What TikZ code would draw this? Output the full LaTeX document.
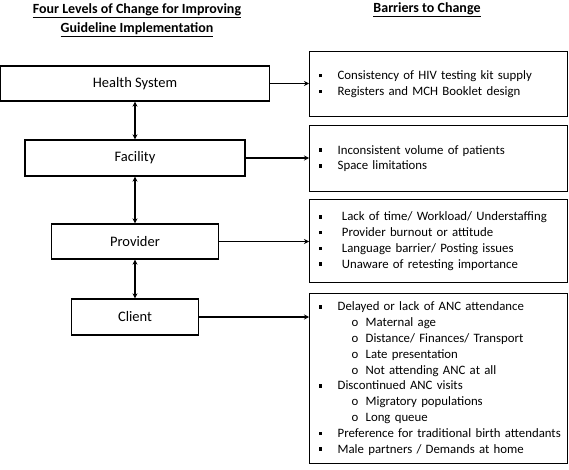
\documentclass[tikz,border=0pt]{standalone}
\usepackage{fontspec}
\setmainfont{Carlito}
\usetikzlibrary{arrows.meta}
\newcommand{\bul}{\makebox[19pt][l]{\rule[2.2pt]{3.6pt}{3.6pt}}}
\newcommand{\subbul}{\hspace*{33pt}\makebox[14pt][l]{o}}
\begin{document}
\begin{tikzpicture}[x=1pt,y=-1pt,
  level/.style={draw,line width=1.3pt,minimum height=35pt,font=\fontsize{14.5}{16}\selectfont},
  barrier/.style={draw,line width=1.3pt,anchor=north west,text width=240pt,inner xsep=9pt,
    align=left,font=\fontsize{12.8}{15.8}\selectfont},
  heading/.style={align=center,font=\bfseries\fontsize{14}{19}\selectfont},
  link/.style={line width=1.3pt,-{Stealth[length=5pt,width=5pt]}},
  both/.style={line width=1.3pt,{Stealth[length=5pt,width=5pt]}-{Stealth[length=5pt,width=5pt]}}]
    \useasboundingbox (0,0) rectangle (569,470);
    % headings
    \node[heading] (lvltitle) at (137,20) {\underline{Four Levels of Change for Improving}\\\underline{Guideline Implementation}};
    \node[heading] (bartitle) at (427,10) {\underline{Barriers to Change}};
    % four levels
    \node[level,minimum width=269pt] (hs) at (135,83.5) {Health System};
    \node[level,minimum width=220pt,minimum height=36pt] (fac) at (135,158) {Facility};
    \node[level,minimum width=167pt] (prov) at (135,241.5) {Provider};
    \node[level,minimum width=127pt,minimum height=36pt] (cli) at (135,317) {Client};
    % barriers
    \node[barrier,minimum height=65pt] (hsbar) at (309,51) {\bul Consistency of HIV testing kit supply\\
        \bul Registers and MCH Booklet design};
    \node[barrier,minimum height=66pt] (facbar) at (309,125) {\bul Inconsistent volume of patients\\
        \bul Space limitations};
    \node[barrier,minimum height=83pt] (provbar) at (309,199) {\bul\ Lack of time/ Workload/ Understaffing\\
        \bul\ Provider burnout or attitude\\
        \bul\ Language barrier/ Posting issues\\
        \bul\ Unaware of retesting importance};
    \node[barrier,minimum height=170pt] (clibar) at (309,293) {\bul Delayed or lack of ANC attendance\\
        \subbul Maternal age\\
        \subbul Distance/ Finances/ Transport\\
        \subbul Late presentation\\
        \subbul Not attending ANC at all\\
        \bul Discontinued ANC visits\\
        \subbul Migratory populations\\
        \subbul Long queue\\
        \mbox{\bul Preference for traditional birth attendants}\\
        \bul Male partners / Demands at home};
    % connectors
    \draw[both] (hs) -- (fac);
    \draw[both] (fac) -- (prov);
    \draw[both] (prov) -- (cli);
    \draw[link] (hs.east) -- (hs.east -| hsbar.west);
    \draw[link] (fac.east) -- (fac.east -| facbar.west);
    \draw[link] (prov.east) -- (prov.east -| provbar.west);
    \draw[link] (cli.east) -- (cli.east -| clibar.west);
\end{tikzpicture}
\end{document}
